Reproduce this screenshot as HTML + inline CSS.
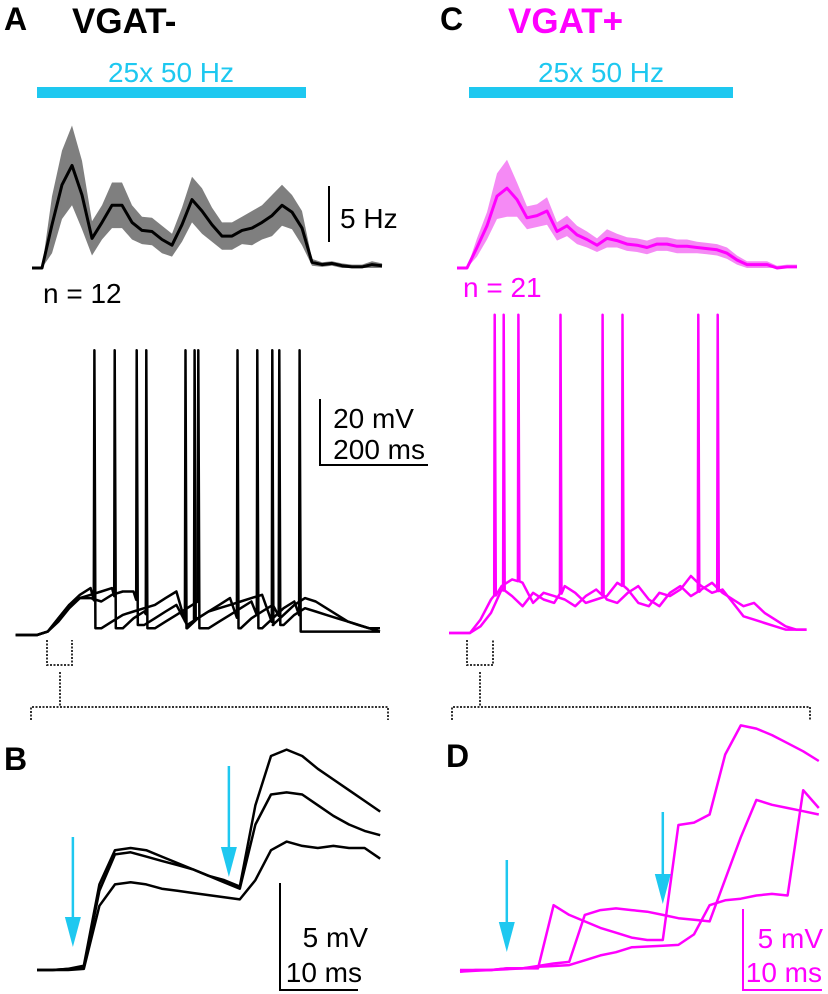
<!DOCTYPE html>
<html><head><meta charset="utf-8"><style>
html,body{margin:0;padding:0;background:#fff}
svg{display:block}
text{font-family:"Liberation Sans",Arial,sans-serif}
</style></head><body>
<svg id="fig" width="828" height="994" viewBox="0 0 828 994" xmlns="http://www.w3.org/2000/svg">
<g>
<text x="4" y="30" font-size="32" font-weight="bold">A</text>
<text x="72" y="33" font-size="35" font-weight="bold">VGAT-</text>
<text x="440" y="30" font-size="32" font-weight="bold">C</text>
<text x="508" y="33" font-size="35" font-weight="bold" fill="#ff00ff">VGAT+</text>
<text x="4" y="770" font-size="32" font-weight="bold">B</text>
<text x="446" y="767" font-size="32" font-weight="bold">D</text>
</g>
<g>
<text x="171" y="82" font-size="28" fill="#1ec8f0" text-anchor="middle">25x 50 Hz</text>
<rect x="37" y="87" width="269" height="11" fill="#1ec8f0"/>
<text x="601" y="82" font-size="28" fill="#1ec8f0" text-anchor="middle">25x 50 Hz</text>
<rect x="469" y="87" width="264" height="11" fill="#1ec8f0"/>
</g>
<g>
<line x1="329" y1="186" x2="329" y2="242" stroke="#000" stroke-width="2"/>
<text x="340" y="228" font-size="28">5 Hz</text>
<text x="43" y="303" font-size="28">n = 12</text>
<text x="463" y="297" font-size="28" fill="#ff00ff">n = 21</text>
<polyline points="320,399 320,465 428,465" fill="none" stroke="#000" stroke-width="2"/>
<text x="414" y="428" font-size="28" text-anchor="end">20 mV</text>
<text x="425" y="459" font-size="28" text-anchor="end">200 ms</text>
<polyline points="280,883 280,990 358,990" fill="none" stroke="#000" stroke-width="2"/>
<text x="368" y="947" font-size="28" text-anchor="end">5 mV</text>
<text x="362" y="982" font-size="28" text-anchor="end">10 ms</text>
<polyline points="743,909 743,990 822,990" fill="none" stroke="#ff00ff" stroke-width="2"/>
<text x="823" y="948" font-size="28" fill="#ff00ff" text-anchor="end">5 mV</text>
<text x="822" y="982" font-size="28" fill="#ff00ff" text-anchor="end">10 ms</text>
</g>
<g fill="none" stroke="#333" stroke-width="2" stroke-dasharray="2,1.5">
<polyline points="47,640 47,665 72,665 72,640"/>
<polyline points="60,672 60,706"/>
<polyline points="31,720 31,707 388,707 388,720"/>
<polyline points="467,640 467,665 493,665 493,640"/>
<polyline points="480,672 480,706"/>
<polyline points="452,720 452,707 810,707 810,720"/>
</g>
<g id="plots"></g>
</svg>
<script>
// ---- Rate data (Hz), A sampled every 10 px from x=32, C from x=457 ----
const rateA = [0,0,3.8,7.3,9.0,6.4,2.6,4.0,5.5,5.5,4.0,3.3,3.2,2.5,2.0,3.8,6.0,5.0,3.8,2.8,2.8,3.3,3.5,4.0,4.6,5.5,4.9,3.5,0.5,0.3,0.4,0.2,0.1,0.1,0.3,0.2];
const semA = [0,0,2.5,3,3.5,3,1.5,1.5,2,2,1.5,1.2,1.2,1.2,1,1.5,2,2,1.5,1.2,1.2,1.2,1.5,1.5,1.8,1.8,1.5,1.5,0.3,0.2,0.2,0.2,0.2,0.2,0.3,0.2];
const rateC = [0,0,1.8,3.7,6.3,7.0,6.0,4.4,4.6,5.0,3.2,3.7,2.9,2.5,2.0,2.6,2.4,2.1,2.0,1.8,2.1,2.1,1.9,1.9,1.8,1.7,1.6,1.3,0.7,0.3,0.3,0.3,0.0,0.1,0.1];
const semC = [0,0,0.8,1.2,2,2.5,1.5,1,1,1.2,0.8,0.9,0.8,0.7,0.6,0.8,0.6,0.6,0.6,0.6,0.6,0.6,0.6,0.6,0.5,0.5,0.5,0.5,0.4,0.3,0.3,0.3,0.2,0.2,0.2];
// ---- Membrane potential (mV above rest), 20 ms grid from -40 to 640 ms ----
const vmTimes = [-40,-20,0,20,40,60,80,100,120,140,160,180,200,220,240,260,280,300,320,340,360,380,400,420,440,460,480,500,520,540,560,580,600,620,640];
const vmA1 = [0,0,0,1,5,9,12,14,2,4,6,7,8,9,11,13,2,5,7,9,11,2,5,7,9,3,6,8,7,6,5,4,3,2,2];
const vmA2 = [0,0,0,1,4,8,11,12,13,14,2,5,7,2,4,6,8,10,2,4,6,8,10,2,5,8,10,1,1,1,1,1,1,1,1];
const vmA3 = [0,0,0,1,5,9,11,11,10,12,13,13,3,5,7,9,3,5,7,8,9,10,11,12,3,6,9,11,10,8,6,4,3,2,1];
const spikesA1 = [106,276,373,451];
const spikesA2 = [144,203,300,410,489];
const spikesA3 = [185,293,438];
const vmC1 = [0,0,0,4,10,14,16,15,9,12,11,10,8,11,13,10,9,12,14,10,8,12,14,11,13,15,12,10,8,9,6,4,2,1,1];
const vmC2 = [0,0,0,2,6,13,11,8,12,10,9,14,12,9,10,11,15,13,9,8,12,11,13,17,14,12,13,9,5,4,3,2,1,1,1];
const spikesC1 = [46,91,251,433];
const spikesC2 = [63,171,289,470];
const spikePeakA = 85, spikePeakC = 95;
// ---- Zoomed EPSPs (mV), 2 ms grid ----
const epspTimes = [0,2,4,6,8,10,12,14,16,18,20,22,24,26,28,30,32,34,36,38,40,42,44];
const epspB1 = [0,0,0.05,0.2,4.0,5.6,5.7,5.6,5.3,5.0,4.7,4.4,4.2,3.9,7.7,10.0,10.3,10.0,9.4,8.9,8.4,7.9,7.4];
const epspB2 = [0,0,0.05,0.1,3.7,5.4,5.5,5.3,5.1,4.9,4.7,4.4,4.1,3.8,6.8,8.2,8.3,8.2,7.7,7.2,6.8,6.5,6.3];
const epspB3 = [0,0,0,0.05,3.0,4.0,4.1,4.0,3.8,3.7,3.6,3.5,3.4,3.3,4.2,5.6,6.0,5.8,5.7,5.8,5.7,5.7,5.2];
const epspTimesD = [0,2,4,6,8,10,12,14,16,18,20,22,24,26,28,30,32,34,36,38,40,42,44,46];
const epspD1 = [0,0,0,0.1,0.1,0.1,4.0,3.4,3.0,2.6,2.3,2.0,1.85,1.85,8.95,9.1,9.6,13.3,15.1,14.9,14.5,14.0,13.5,12.9];
const epspD2 = [-0.1,0,0,0.1,0.1,0.25,0.4,0.5,3.4,3.7,3.8,3.7,3.6,3.4,3.2,3.1,3.0,5.6,8.2,10.5,10.2,10.0,9.8,9.6];
const epspD3 = [-0.1,-0.05,0,0.05,0.1,0.2,0.25,0.3,0.6,0.9,1.1,1.4,1.45,1.5,1.55,2.2,4.0,4.3,4.4,4.6,4.7,4.6,11.1,10.0];
const arrowTimesB = [4.6,24.6];
const arrowTimesD = [6,26];

const NS = 'http://www.w3.org/2000/svg';
const root = document.getElementById('plots');
function mk(tag, attrs){const e=document.createElementNS(NS,tag);for(const k in attrs)e.setAttribute(k,attrs[k]);root.appendChild(e);return e;}
function pts(arr){return arr.map(p=>p[0].toFixed(1)+','+p[1].toFixed(1)).join(' ');}

const rx = (i, x0) => x0 + i*10;
const ry = hz => 268 - hz*11.4;
function ratePanel(mean, sem, x0, band, line, name){
  const up = mean.map((v,i)=>[rx(i,x0), ry(v+sem[i])]);
  const dn = mean.map((v,i)=>[rx(i,x0), ry(Math.max(0,v-sem[i]))]).reverse();
  const b = mk('polygon',{points:pts(up.concat(dn)),fill:band,stroke:'none'});
  
  
  const l = mk('polyline',{points:pts(mean.map((v,i)=>[rx(i,x0), ry(v)])),fill:'none',stroke:line,'stroke-width':3,'stroke-linejoin':'round'});
  
  
}
ratePanel(rateA, semA, 32, '#7f7f7f', '#000', 'rate-a');
ratePanel(rateC, semC, 457, '#f58af5', '#ff00ff', 'rate-c');

function vmTrace(vm, spikes, xf, yf, peak, resetNext, color, name){
  const out=[];
  let s=0;
  for(let i=0;i<vmTimes.length;i++){
    out.push([xf(vmTimes[i]), yf(vm[i])]);
    while(s<spikes.length && i+1<vmTimes.length && spikes[s]>=vmTimes[i] && spikes[s]<vmTimes[i+1]){
      const ts=spikes[s], f=(ts-vmTimes[i])/(vmTimes[i+1]-vmTimes[i]);
      const v=vm[i]+(vm[i+1]-vm[i])*f;
      const r=resetNext?vm[i+1]:v;
      out.push([xf(ts),yf(v)],[xf(ts+1),yf(peak)],[xf(ts+3),yf(r)]);
      s++;
    }
  }
  const l=mk('polyline',{points:pts(out),fill:'none',stroke:color,'stroke-width':2.5,'stroke-linejoin':'round'});
  
  
}
const xA=t=>37+t*0.536, yA=v=>635-v*3.35;
const xC=t=>470+t*0.526, yC=v=>633-v*3.35;
vmTrace(vmA1, spikesA1, xA, yA, spikePeakA, true, '#000', 'vm-trace-a1');
vmTrace(vmA2, spikesA2, xA, yA, spikePeakA, true, '#000', 'vm-trace-a2');
vmTrace(vmA3, spikesA3, xA, yA, spikePeakA, true, '#000', 'vm-trace-a3');
vmTrace(vmC1, spikesC1, xC, yC, spikePeakC, false, '#ff00ff', 'vm-trace-c1');
vmTrace(vmC2, spikesC2, xC, yC, spikePeakC, false, '#ff00ff', 'vm-trace-c2');

function epsp(times, vals, xf, yf, color, name){
  const l=mk('polyline',{points:pts(vals.map((v,i)=>[xf(times[i]),yf(v)])),fill:'none',stroke:color,'stroke-width':2.5,'stroke-linejoin':'round'});
  
  
}
const xB=t=>37+t*7.8, yB=v=>970-v*21.4;
const xD=t=>460+t*7.8, yD=v=>970-v*16.2;
epsp(epspTimes, epspB1, xB, yB, '#000', 'epsp-trace-b1');
epsp(epspTimes, epspB2, xB, yB, '#000', 'epsp-trace-b2');
epsp(epspTimes, epspB3, xB, yB, '#000', 'epsp-trace-b3');
epsp(epspTimesD, epspD1, xD, yD, '#ff00ff', 'epsp-trace-d1');
epsp(epspTimesD, epspD2, xD, yD, '#ff00ff', 'epsp-trace-d2');
epsp(epspTimesD, epspD3, xD, yD, '#ff00ff', 'epsp-trace-d3');

function arrow(x, yTop, yTip, name){
  const l=mk('line',{x1:x,y1:yTop,x2:x,y2:yTip-25,stroke:'#1ec8f0','stroke-width':2.5});
  
  
  const h=mk('polygon',{points:`${x-8},${yTip-30} ${x+8},${yTip-30} ${x},${yTip}`,fill:'#1ec8f0'});
  
  
}
arrow(xB(arrowTimesB[0]), 837, 947, 'stim-arrow-b1');
arrow(xB(arrowTimesB[1]), 766, 877, 'stim-arrow-b2');
arrow(xD(arrowTimesD[0]), 860, 952, 'stim-arrow-d1');
arrow(xD(arrowTimesD[1]), 812, 904, 'stim-arrow-d2');
</script>
</body></html>
